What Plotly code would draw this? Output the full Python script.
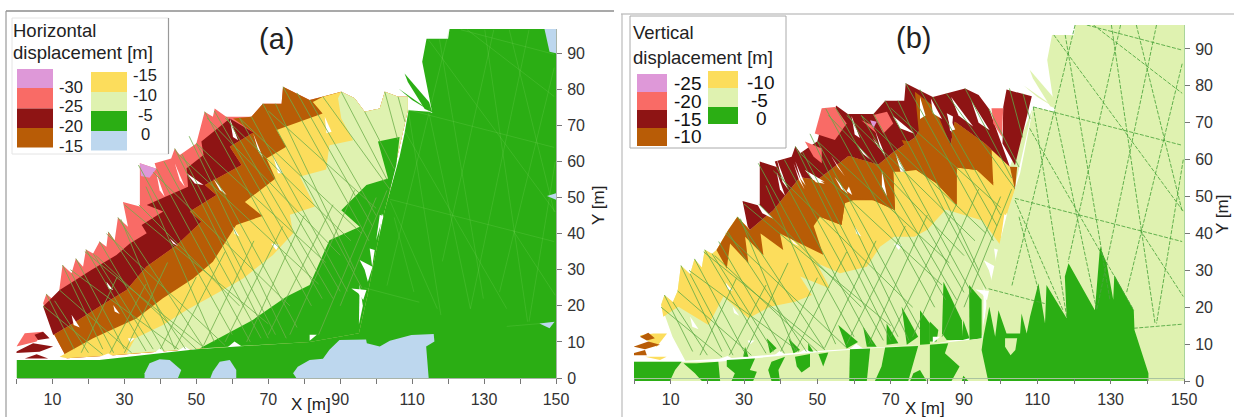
import plotly.graph_objects as go

W, H = 1234, 417
COL = dict(pink="#DE98D8", salmon="#F96B66", darkred="#8E1414", orange="#B85C06", yellow="#FCDD5C",
           pale="#DFF2B0", green="#2BAE14", blue="#BDD7EE")

x_ticks = [0, 10, 20, 30, 40, 50, 60, 70, 80, 90, 100, 110, 120, 130, 140, 150]
x_tick_text = ["", "10", "", "30", "", "50", "", "70", "", "90", "", "110", "", "130", "", "150"]
y_ticks = [0, 10, 20, 30, 40, 50, 60, 70, 80, 90]

# upper outline of the sliding mass (shared mesh in both panels)
envelope = [(7.4, 20.7), (8.3, 23.3), (10.6, 21.4), (11.9, 24.4), (12.8, 31.3), (15.3, 29), (16.5, 33.1), (18.5, 30.8),
            (19.3, 35.6), (21.3, 34.5), (23.1, 37.8), (25, 36.4), (25.5, 40.5), (27.3, 38.2), (28.2, 44.5), (31, 41.9),
            (29.6, 48.8), (34.3, 47.5), (34.3, 59.5), (38.9, 58), (38.4, 59.5), (43, 60.8), (44, 63.6), (45.4, 61.8),
            (50, 65), (52.3, 73.8), (54.6, 72.4), (55.1, 74.7), (58.3, 72.4), (65.3, 72.4), (68.5, 76), (73.7, 76),
            (74.1, 80.7), (81.5, 77), (85.2, 77.9), (90.3, 79.3), (94, 77.5), (96.8, 73.8), (101, 74.7), (102.4, 79.3),
            (106.1, 77.9), (108.8, 77.9), (108.8, 74.2)]
mass_bottom = [(100.2, 36.4), (97.5, 22.5), (95.2, 12.4), (81.5, 10), (60, 8.6), (50.9, 8.2), (26, 6.2), (14, 5.5), (10.5, 12)]

# panel (a): band boundaries, lower-left to upper-right
a_red_top = [(7.4, 19.8), (12, 24.4), (20.8, 29.9), (27.8, 34.1), (31.5, 37.3), (36.2, 40.1), (34.8, 42.4), (40.8, 46.1), (36.2, 47.9),
             (47.7, 53), (47.3, 58.1), (52, 61.8), (51.4, 65.5), (59.3, 71.9), (65.9, 68)]
a_orange_top = [(10.2, 11.9), (15.7, 15.1), (23.1, 19.8), (30.6, 24.4), (36.1, 30.8), (44.5, 36.8), (51.4, 43.3), (48.2, 46.1),
                (55.6, 50.7), (52.4, 53.5), (62.6, 59), (59.3, 64.1), (65.9, 68), (60.2, 71.9), (65.3, 72.4)]
a_yellow_top = [(12, 5.9), (21.3, 11), (33.3, 16.5), (40.7, 22.1), (49.1, 27.6), (54.6, 32.2), (61.1, 42.4), (68.4, 44.9), (63.5, 48.8),
                (72, 55.3), (69.5, 60.8), (75, 64.1), (72.3, 68.7), (85.1, 73.3), (82.4, 76.5)]
a_pale_top = [(30.6, 6.8), (33, 11), (40.7, 14.7), (47.2, 18.8), (56.5, 23.9), (63, 27.6), (71.3, 34.1), (76.9, 40.1), (76, 45.2),
              (83, 47.5), (78.8, 55.8), (86.1, 57.8), (87, 64.5), (93.6, 65.9), (90.3, 71.9), (89.4, 77.5), (90.3, 79.3)]
a_green_mid = [(50.9, 8.2), (60.2, 13.3), (65.7, 16.1), (75, 22.5), (81.5, 25.8), (87, 38.2), (95.4, 41.9), (90.3, 46.5), (97.3, 53.5),
               (103.3, 55.3), (100.5, 65.5), (106.5, 66.8), (105.6, 59), (102.4, 46.5), (100.2, 36.4), (97.5, 22.5), (95.2, 12.4), (81.5, 10)]
a_strip = [(0, 5), (23, 5), (50, 8), (81.5, 10), (95.2, 12.4), (120, 12), (120, 0), (0, 0)]
block_outline_a = [(109, 74.2), (114.7, 73.8), (115.6, 73.4), (112.8, 87.6), (114, 94), (120, 94), (120.4, 96.7), (150, 96.7),
                   (150, 0), (95, 0), (95.2, 12.4), (97.5, 22.5), (100.2, 36.4), (102.4, 46.5), (106.5, 61.3), (107.9, 67.8)]
spike_1 = [(107.9, 84.4), (114.7, 76.5), (115.6, 73.6), (113.5, 74.5), (108.8, 82)]
spike_2 = [(106.2, 80.2), (115.6, 73.6), (110, 77)]
a_blue_bottom = [(77.8, 0), (76.9, 1.3), (78.2, 3.1), (81.5, 5), (85.2, 5.3), (87, 7.8), (89.8, 10.5), (97.2, 10.7), (97.4, 9.6),
                 (101, 8.7), (103.8, 10.3), (109.8, 11.9), (116, 12.2), (116.2, 10.1), (113.9, 8.7), (114.6, 0)]
a_blue_blob_1 = [(35.6, 0), (35.6, 1.3), (37, 4.1), (39.8, 5.2), (42.6, 5), (45.8, 2.2), (44.9, 0)]
a_blue_blob_2 = [(53.9, 0), (54.6, 1.8), (56.5, 4.5), (59.3, 5), (61.1, 2.2), (61.1, 0)]
a_blue_corner = [(146.8, 96.7), (150, 96.7), (150, 90), (148.2, 90.4)]
a_blue_notch_1 = [(147.5, 50.4), (150, 51.2), (150, 49.4)]
a_blue_notch_2 = [(145.4, 15.1), (149.6, 15.6), (148.2, 13.8)]
a_left_salmon = [(0, 8.7), (2.3, 12.4), (7.4, 12.8), (5.6, 10.1)]
a_left_red_1 = [(-0.9, 6.9), (4.6, 9.6), (10.2, 8.7), (6.4, 7.3)]
a_left_red_2 = [(2.3, 5.4), (5.6, 6.6), (8.8, 5.4)]
a_left_red_3 = [(5, 12), (7.4, 12.8), (9.2, 11), (6, 10.5)]

# panel (b): band boundaries and individual mesh cells
b_yellow_low = [(8, 17.4), (12.1, 20.1), (20.3, 15.2), (24.4, 22.9), (31.2, 17), (37.1, 20.1), (43.9, 21.5), (48.5, 23.3),
                (45.3, 28.3), (53.5, 25.1), (49.8, 32), (56.2, 29.2), (63.5, 31), (67.1, 36.4), (70.9, 39.1), (76.5, 39.1), (80, 41),
                (85, 46.5), (90, 45), (95, 43.5), (99.8, 37), (101.2, 42.7), (104, 52)]
b_orange_top = [(22.5, 35.5), (25.7, 40.9), (28.2, 44.5), (31.6, 40.9), (38, 46.3), (45.3, 55.2), (50, 54.5), (58.5, 61), (66.6, 58.6),
                (70.7, 62), (76.6, 66), (82, 74.3), (86, 62), (87.5, 70.3), (95.7, 64.4), (102.5, 58.1)]
b_orange_low = [(22.5, 35.5), (25.3, 30.5), (26.2, 37.3), (31.2, 31.9), (30.3, 39.1), (35.3, 34.1), (34.5, 40), (40.7, 35.5),
                (39.8, 40), (45.3, 37.3), (51.6, 34.2), (49, 42), (50.7, 44.5), (56.6, 42.3), (57.5, 48.2), (59.8, 49), (65.3, 49),
                (71.2, 46.3), (70.7, 56.7), (73, 56.7), (77, 57.2), (82.5, 53.6), (88, 47.7), (88, 57.9), (93.5, 57.2), (98, 53),
                (97.5, 63.5), (102.5, 58.1), (103.9, 51.8), (104.5, 58)]
b_orange_cells = [
    [(76.6, 78.4), (82, 74.3), (88, 60), (88, 47.7), (82.5, 53.6), (77, 57.2), (73, 65.3), (78, 64.4)],
    [(87.5, 70.3), (95.7, 64.4), (98, 53.6), (93.5, 57.2), (88, 57.9), (86.6, 67)],
    [(58.5, 61), (66.6, 58.6), (70.7, 56.7), (71.2, 46.3), (65.3, 49), (58.9, 49.9)],
    [(45.3, 55.2), (50.7, 54), (55.7, 54.5), (57.5, 48.2), (56.6, 42.3), (50.7, 44.5), (46.2, 50)],
    [(38, 46.3), (43, 47.7), (46.6, 45), (51.6, 34.2), (46.2, 40), (43.5, 38.2), (38, 41.6)],
]
b_red_right = [(100.7, 74.3), (101.6, 79), (105.7, 77.9), (108.5, 77.2), (103.9, 58.5), (100.5, 64.4)]
b_salmon_cells = [
    [(51.2, 73.9), (54.8, 74.3), (58, 69.8), (54.8, 65.3), (49.3, 67.1)], [(46.6, 64.9), (51.2, 63), (51.2, 59), (49, 60.8)],
    [(65.3, 72.1), (69, 73), (70.7, 69.8), (68, 67.1)], [(97.5, 73.9), (100.7, 73.9), (100.3, 66.2), (98, 69.8)],
    [(62, 70.7), (64.8, 69.4), (66.2, 67.1)],
]
b_pink = [(64.4, 70.7), (66.2, 70.3), (65.3, 68.5)]
b_slits = [
    [(38.9, 60.3), (42, 52), (40.5, 54)], [(43.5, 59), (46.5, 52), (45, 54.5)], [(53.8, 61), (57.5, 55.5), (55.5, 58)],
    [(60.5, 64.5), (64.5, 60), (62.5, 61.5)], [(65, 66), (68, 62), (66.5, 63.5)], [(70.5, 72), (76.5, 67), (72.5, 68.5)],
    [(78, 77), (79.5, 72), (78, 71)], [(81, 76.5), (84, 71), (81.5, 72.5)], [(86.5, 77), (92.5, 69), (88.5, 72)], [(92, 76), (97, 68), (94, 70)],
    [(46.6, 57.2), (52, 54), (48.9, 54.5)], [(67.6, 57.2), (69, 50), (67.6, 52.7)], [(58.6, 52.7), (59.5, 50.4), (58, 51.5)],
    [(85.3, 72.6), (87, 71.7), (86.6, 67.2)], [(33, 49), (38, 44), (35, 45.5)],
]
b_strip = [(0, 5.2), (23, 5.2), (50, 7.8), (81, 10), (95, 11.5), (95, 0), (0, 0)]
b_block = [(108.9, 74.3), (114.8, 73), (112.7, 87), (114, 93.8), (120, 93.8), (120.3, 96.5), (150, 96.5), (150, 0), (94.8, 0),
           (94.8, 10.2), (96.3, 22), (99, 34.6), (102, 46.3), (103.9, 51.8), (105.3, 56.3)]
b_green_main = [(96.6, 0), (94.8, 8.4), (95.3, 12), (96.9, 20.1), (98.5, 12), (99.4, 19.2), (101.6, 12.9), (105.3, 12.9), (105.7, 18.3),
                (107.1, 12.9), (108, 17.4), (110.3, 26.5), (112.1, 15.6), (112.5, 26), (118, 17), (117.5, 28.3), (118.5, 31.9), (125.7, 19.2),
                (127.1, 36.4), (128.9, 31.9), (130.7, 22), (131, 28.7), (136.3, 19.2), (136.5, 13.8), (140.3, 2.1), (140.3, 0)]
b_hole = [(101.2, 11.6), (104.5, 11.6), (104, 8.4), (102.7, 7), (101.2, 9.3)]
b_green_patches = [
    [(0, 5.2), (13, 5.2), (11.2, 3), (9.8, 0), (0, 0)],
    [(13.5, 4.8), (17.1, 4.8), (23, 5.2), (23.5, 0), (18.5, 0), (16.6, 2.1)],
    [(25.3, 5.7), (33, 6.1), (31.6, 3), (33.5, 2.5), (32.5, 0), (26.6, 0), (27.5, 2.1), (25.3, 3.9)],
    [(36.6, 3), (37.5, 5.2), (41.2, 6.6), (39.4, 3), (39.8, 0), (37.5, 0)],
    [(43.9, 6.6), (48, 7.3), (48, 3.9), (45.7, 2.3), (44.4, 3.9)],
    [(50.3, 7.3), (53, 7.7), (51.6, 3.9)],
    [(58.9, 8.6), (64.4, 8.8), (63.5, 0), (58.7, 0)],
    [(68.5, 9.1), (77.5, 9.5), (74.8, 0), (65.7, 0), (67.5, 3.9)],
    [(75.3, 0), (76.2, 2.1), (78, 3), (79.8, 0)],
    [(80.7, 9.8), (85.7, 10.2), (84.8, 7.5), (88.8, 3.9), (86.6, 0), (80.7, 0)],
    [(89.4, 0), (89.8, 1.4), (91.2, 0)],
]
b_green_teeth = [
    [(55.7, 15.2), (61.1, 10.6), (58, 8.8)], [(62.5, 14.7), (66.2, 9.3), (63.5, 9.3)], [(68.9, 15.6), (72.1, 10.2), (68.9, 9.8)],
    [(73, 20.1), (77.5, 12), (74.4, 9.8)], [(78, 19.2), (80.7, 15.6), (80.7, 9.4), (78, 9.4)], [(36.2, 11.6), (38.9, 8.9), (37.1, 7.5)],
    [(42.1, 11.6), (45.3, 8.4), (43.5, 7.5)], [(30.3, 9.3), (31.2, 6.6), (29.8, 6.6)], [(47.5, 10.2), (48.9, 8), (47.5, 8)],
    [(84.4, 26.9), (89.4, 16.5), (89.8, 11.1), (85.3, 11.1), (84, 12.9)], [(80.7, 16.1), (83, 13.8), (82.5, 10.7), (80.7, 10.7)],
    [(91.4, 26), (94.8, 22), (94.8, 11.6), (91.5, 11.1)], [(89.8, 16.5), (91.5, 11.6), (89.6, 11.1)],
]
b_left_yellow = [(1.6, 12.4), (5.3, 12.9), (9, 12.9), (6.2, 9.3), (3.5, 11.1)]
b_left_orange_1 = [(1.6, 12), (3.9, 13.1), (5.7, 11.6), (3.5, 11)]
b_left_orange_2 = [(-0.2, 9.3), (3.9, 10.7), (7.1, 9.8), (3, 8.6)]
b_left_orange_3 = [(-2, 7), (3, 8.4), (3.5, 7)]
b_left_yellow_2 = [(3, 6.6), (8.9, 6.6), (7.1, 5.7)]

# white gaps of the mesh, shared by both panels
slits = [
    [(25, 26.7), (26.9, 24.4), (25.5, 24.9)], [(15.3, 17.5), (17.6, 14), (15.9, 14.7)], [(26.9, 20.2), (28.7, 17.7), (27.3, 18.4)],
    [(31, 11), (32.9, 11), (31.5, 9.8)], [(42.6, 38.7), (44.9, 36.6), (43.5, 37.3)], [(60.2, 41.9), (62, 39.2), (60.6, 40)],
    [(70.8, 37.3), (73.1, 36.9), (72.2, 35.5)], [(59.3, 71.9), (61.6, 65.9), (60.2, 66.8)], [(38.9, 56.7), (41.2, 50.2), (39.8, 52)],
    [(44, 59.5), (46.8, 53), (45.4, 54.8)], [(85.7, 72.4), (87.6, 68.2), (86.2, 67.8)], [(95.4, 32.7), (99, 30.8), (97.7, 26.7), (96.8, 30)],
    [(93.1, 24.8), (97.3, 24.4), (96.4, 21.6), (95, 23.5)], [(95.4, 25.9), (96.3, 20), (95.2, 14.8)], [(101.6, 45.6), (102, 44.7), (100.6, 37.8)],
    [(98.2, 35.9), (99.6, 35.5), (98.9, 30.8)], [(37, 5.9), (39.8, 8.2), (42.1, 6.4)], [(43.5, 6.8), (46.8, 8.7), (49.1, 7.3)],
    [(58.3, 8.2), (60.6, 10.1), (63, 8.5)], [(23.1, 5.9), (25.5, 6.8), (27.3, 5.9)], [(65, 9.2), (72, 9.9), (68, 9.6)], [(81.5, 12), (83.5, 12), (81.5, 10.3)],
    [(47.3, 56.7), (52, 53.5), (49.6, 53.9)], [(54.7, 55.3), (58.4, 50.7), (56.5, 52.1)], [(65.8, 67.8), (68.6, 60.9), (67.3, 62.7)],
    [(71.3, 61.8), (74.1, 56.7), (72.7, 56.7)], [(101, 45.2), (101.9, 44.8), (100, 38.2)],
]

mass_faults = [
    ((8.3, 23.3), (16, 8)), ((12.8, 31.3), (24, 8)), ((16.5, 33.1), (30, 8)), ((19.3, 35.6), (36, 7.5)), ((23.1, 37.8), (41, 7.5)),
    ((25.5, 40.5), (47, 8)), ((28.2, 44.5), (52, 8.5)), ((33.9, 59), (60, 12)), ((38.9, 58), (65, 10)), ((44, 63.6), (70, 11)),
    ((48, 67), (75, 11)), ((52.3, 73.8), (82, 20)), ((58.3, 72.4), (88, 22)), ((65.3, 72.4), (92, 24)), ((68.5, 76), (96, 25)),
    ((74.1, 80.7), (98, 38)), ((81.5, 77), (100, 45)), ((90.3, 79.3), (103, 55)), ((85.2, 77.9), (104, 52)), ((96.8, 73.8), (105, 58)),
    ((102.4, 79.3), (106, 66)), ((106.1, 77.9), (108, 71)), ((7.4, 20), (24, 6.5)), ((11.9, 24.4), (32, 7)), ((15, 30), (45, 8)),
    ((19, 35), (52, 8.5)), ((25, 40), (58, 9)), ((30, 48), (70, 15)), ((38, 57), (76, 20)), ((45, 62), (84, 26)), ((53, 72), (90, 34)),
    ((62, 72), (96, 40)), ((70, 74), (100, 47)), ((18, 7), (28, 28)), ((30, 7), (42, 32)), ((44, 8), (58, 35)), ((58, 10), (74, 42)),
    ((70, 12), (88, 48)), ((84, 12), (100, 50)), ((90, 20), (103, 52)),
    ((10.6, 21.4), (20, 7)), ((15.3, 29), (27, 7)), ((21.3, 34.5), (38, 8)), ((29, 44), (44, 8)), ((36, 53), (55, 10)), ((41, 60), (68, 11)),
    ((46, 62), (72, 12)), ((50, 65), (78, 14)), ((55, 74), (85, 22)), ((62, 72), (90, 24)), ((72, 76), (94, 30)), ((78, 79), (99, 42)),
    ((22, 34), (50, 8)), ((34, 48), (62, 20)), ((50, 65), (86, 32)), ((58, 72), (93, 38)),
    ((40, 8), (50, 28)), ((52, 9), (66, 38)), ((64, 10), (80, 45)), ((76, 12), (94, 52)), ((26, 7), (36, 26)),
]
block_faults = [
    ((123.5, 96.5), (149.5, 89.7)), ((108.9, 74.3), (149.5, 63.9)), ((103.9, 49.5), (149.5, 37.8)), ((96.7, 25), (112, 21)), ((136.3, 14.3), (149.5, 15.4)),
    ((120.3, 96.5), (103, 25.6)), ((132.7, 96.5), (118.4, 32.3)), ((142.5, 96.5), (126.2, 19.2)), ((149.5, 86), (134.3, 23.8)), ((149.8, 60), (142.5, 15.6)),
    ((114.5, 93.8), (149.8, 46)), ((125.3, 96.5), (149.5, 78)), ((117.6, 93.8), (129.8, 22)), ((137, 96.5), (149.5, 46)), ((130.2, 96.5), (142.1, 15.6)),
    ((108.9, 74.3), (118, 17.4)), ((114.8, 73), (126.2, 19.2)), ((107.9, 68.5), (136.3, 19.2)), ((103.9, 49), (117, 19.2)), ((105, 44.5), (110.5, 23.8)),
    ((138, 41), (149.8, 22.9)),
]

fig = go.Figure()


def poly(points, color, panel):
    fig.add_trace(go.Scatter(x=[p[0] for p in points] + [points[0][0]], y=[p[1] for p in points] + [points[0][1]],
                             mode="lines", fill="toself", fillcolor=color, line=dict(width=0), hoverinfo="skip",
                             showlegend=False, xaxis="x" + panel, yaxis="y" + panel, cliponaxis=False))


def lines(segments, color, width, dash, panel):
    xs, ys = [], []
    for a, b in segments:
        xs += [a[0], b[0], None]
        ys += [a[1], b[1], None]
    fig.add_trace(go.Scatter(x=xs, y=ys, mode="lines", line=dict(color=color, width=width, dash=dash), hoverinfo="skip",
                             showlegend=False, xaxis="x" + panel, yaxis="y" + panel))


def layer(boundary, tail_from):
    start = boundary[0][0]
    return boundary + [p for p in envelope if p[0] > tail_from] + [p for p in mass_bottom if p[0] >= start]


# ---- panel (a)
poly(envelope + mass_bottom, COL["salmon"], "")
poly(a_red_top + a_orange_top[:-2][::-1], COL["darkred"], "")
poly(layer(a_orange_top, 65.3), COL["orange"], "")
poly(layer(a_yellow_top, 82.5), COL["yellow"], "")
poly(layer(a_pale_top, 90.4), COL["pale"], "")
poly(a_green_mid, COL["green"], "")
poly([(34.3, 59.5), (38.9, 58), (37, 55.5), (34.6, 56)], COL["pink"], "")
poly(a_left_salmon, COL["salmon"], "")
poly(a_left_red_1, COL["darkred"], "")
poly(a_left_red_2, COL["darkred"], "")
poly(a_left_red_3, COL["darkred"], "")
for s in slits:
    poly(s, "#FFFFFF", "")
lines(mass_faults, "rgba(110,175,75,0.8)", 1, "solid", "")
poly(a_strip, COL["green"], "")
poly(block_outline_a, COL["green"], "")
poly(spike_1, COL["green"], "")
poly(spike_2, COL["green"], "")
lines(block_faults, "rgba(140,220,110,0.25)", 0.8, "solid", "")
for b in (a_blue_bottom, a_blue_blob_1, a_blue_blob_2, a_blue_corner, a_blue_notch_1, a_blue_notch_2):
    poly(b, COL["blue"], "")

# ---- panel (b)
poly([p for p in envelope if p[0] <= 22.5] + b_orange_top + [(108.8, 74.2)] + mass_bottom, COL["pale"], "2")
poly([p for p in envelope if p[0] <= 22.5] + b_orange_top + [(104, 52)] + b_yellow_low[::-1], COL["yellow"], "2")
poly(b_orange_top + b_orange_low[::-1], COL["orange"], "2")
poly([p for p in envelope if 29.6 <= p[0] <= 96.8] + [p for p in b_orange_top[::-1] if p[0] >= 31.5], COL["darkred"], "2")
poly(b_red_right, COL["darkred"], "2")
for c in b_salmon_cells:
    poly(c, COL["salmon"], "2")
poly(b_pink, COL["pink"], "2")
for c in b_orange_cells:
    poly(c, COL["orange"], "2")
for t in b_green_teeth:
    poly(t, COL["green"], "2")
poly(b_left_yellow, COL["yellow"], "2")
poly(b_left_orange_1, COL["orange"], "2")
poly(b_left_orange_2, COL["orange"], "2")
poly(b_left_orange_3, COL["orange"], "2")
poly(b_left_yellow_2, COL["yellow"], "2")
for s in slits + b_slits:
    poly(s, "#FFFFFF", "2")
lines(mass_faults, "rgba(95,170,70,0.8)", 1, "solid", "2")
poly(b_strip, COL["pale"], "2")
poly(b_block, COL["pale"], "2")
poly(spike_1, COL["pale"], "2")
poly(spike_2, COL["pale"], "2")
poly(b_green_main, COL["green"], "2")
poly(b_hole, COL["pale"], "2")
for g in b_green_patches:
    poly(g, COL["green"], "2")
lines(block_faults, "rgba(75,165,60,0.85)", 1, "4px,1.5px", "2")


def px(v):
    return v / W


def py(v):
    return 1 - v / H


axis_font = dict(family="Liberation Sans, Arial, sans-serif", size=16, color="#333333")


def x_axis(domain, color):
    return dict(domain=domain, range=[0, 150], tickmode="array", tickvals=x_ticks, ticktext=x_tick_text, ticks="outside",
                ticklen=5, tickcolor="#777777", linecolor=color, linewidth=1, showline=True, showgrid=False, zeroline=False,
                tickfont=axis_font, ticklabelstandoff=2)


def y_axis(domain, top, anchor, color):
    return dict(domain=domain, range=[0, top], side="right", anchor=anchor, tickmode="array", tickvals=y_ticks, ticks="outside",
                ticklen=5, tickcolor="#777777", linecolor=color, linewidth=1, showline=True, showgrid=False, zeroline=False,
                tickfont=axis_font, ticklabelstandoff=2)


shapes, notes = [], []


def rect(x0, y0, x1, y1, fill, line="rgba(0,0,0,0)"):
    shapes.append(dict(type="rect", xref="paper", yref="paper", x0=px(x0), x1=px(x1), y0=py(y1), y1=py(y0), fillcolor=fill,
                       line=dict(color=line, width=1), layer="above"))


def seg(x0, y0, x1, y1, color):
    shapes.append(dict(type="line", xref="paper", yref="paper", x0=px(x0), x1=px(x1), y0=py(y0), y1=py(y1),
                       line=dict(color=color, width=1.2)))


def text(x, y, s, size, anchor="center", color="#222222", angle=0):
    notes.append(dict(xref="paper", yref="paper", x=px(x), y=py(y), text=s, showarrow=False, xanchor=anchor, yanchor="middle",
                      font=dict(family="Liberation Sans, Arial, sans-serif", size=size, color=color), textangle=angle,
                      borderpad=0, borderwidth=0))


seg(6, 11, 614, 11, "#555555")
seg(6, 11, 6, 417, "#999999")
seg(621, 14, 1234, 14, "#AAAAAA")
seg(622, 14, 622, 417, "#BBBBBB")

rect(12, 18, 168.5, 154, "#FFFFFF", "#E4E4E4")
seg(168.5, 18, 168.5, 154, "#999999")
text(13, 30, "Horizontal", 18.5, "left")
text(13, 53, "displacement [m]", 18.5, "left")
for y0, y1, c in ((69, 88, "pink"), (88, 108.5, "salmon"), (108.5, 128, "darkred"), (128, 147.5, "orange")):
    rect(17, y0, 53, y1, COL[c])
for y0, y1, c in ((72, 92, "yellow"), (92, 111, "pale"), (111, 131, "green"), (131, 150.5, "blue")):
    rect(91, y0, 127, y1, COL[c])
for y, s in ((87, "-30"), (106, "-25"), (126, "-20"), (146, "-15")):
    text(71, y, s, 16.5)
for y, s in ((75, "-15"), (95, "-10"), (115, "-5"), (134, "0")):
    text(145, y, s, 16.5)
text(276, 39, "(a)", 29)
text(311, 404, "X [m]", 17)
text(598, 206, "Y [m]", 17, angle=-90)

rect(630, 16, 786, 148, "#FFFFFF", "#AAAAAA")
text(633, 33, "Vertical", 18.5, "left")
text(633, 57, "displacement [m]", 18.5, "left")
for y0, y1, c in ((74, 92, "pink"), (92, 110, "salmon"), (110, 128, "darkred"), (128, 146, "orange")):
    rect(637, y0, 667, y1, COL[c])
for y0, y1, c in ((71, 88, "yellow"), (88, 107, "pale"), (107, 124, "green")):
    rect(708, y0, 738, y1, COL[c])
for y, s in ((83, "-25"), (101, "-20"), (119, "-15"), (137, "-10")):
    text(687, y, s, 19, color="#111111")
for x, y, s in ((760, 82, "-10"), (759, 100, "-5"), (761, 118, "0")):
    text(x, y, s, 19, color="#111111")
text(913, 38, "(b)", 29)
text(925, 408, "X [m]", 17)
text(1222, 215, "Y [m]", 17, angle=-90)

fig.update_layout(width=W, height=H, autosize=False, margin=dict(l=0, r=0, t=0, b=0, autoexpand=False), paper_bgcolor="white",
                  plot_bgcolor="rgba(0,0,0,0)", showlegend=False, shapes=shapes, annotations=notes,
                  xaxis=x_axis([16.5 / W, 556 / W], "#A9B4A9"),
                  yaxis=y_axis([(H - 378) / H, (H - 29) / H], 96.7, "x", "#A9B4A9"),
                  xaxis2=x_axis([634 / W, 1184 / W], "#A9C4A0"),
                  yaxis2=y_axis([(H - 381) / H, (H - 25) / H], 96.5, "x2", "#A9D49A"))
fig.write_html("out.html", config=dict(displayModeBar=False),
               post_script="document.body.style.margin='0';document.body.style.overflow='hidden';")
